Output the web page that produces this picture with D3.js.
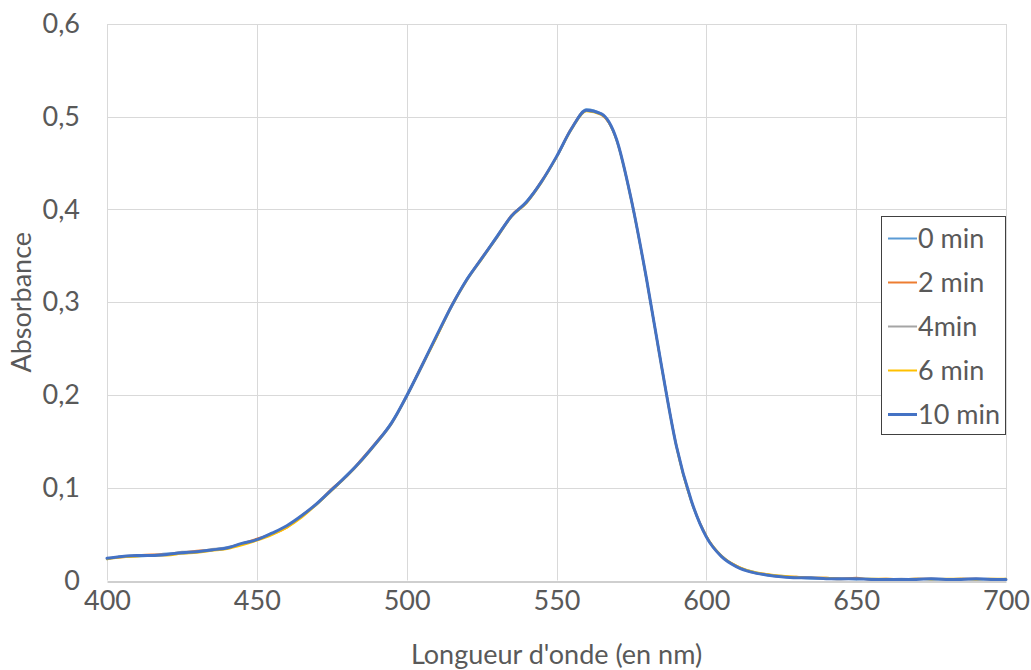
<!DOCTYPE html>
<html><head><meta charset="utf-8">
<script src="https://cdn.jsdelivr.net/npm/d3@7"></script>
<style>
html,body{margin:0;padding:0;background:#fff;}
svg text{font-family:Lato,"Open Sans",sans-serif;fill:#595959;}
</style></head>
<body><svg id="chart" width="1031" height="670"></svg>
<script>
const wavelengths = [400,405,410,415,420,425,430,435,440,445,450,455,460,465,470,475,480,485,490,495,500,505,510,515,520,525,530,535,540,545,550,555,560,565,570,575,580,585,590,595,600,605,610,615,620,625,630,635,640,645,650,655,660,665,670,675,680,685,690,695,700];

const seriesNames = ["0 min","2 min","4min","6 min","10 min"];
const seriesColors = ["#5B9BD5","#ED7D31","#A5A5A5","#FFC000","#4472C4"];

const s0min = [0.023,0.026,0.026,0.027,0.029,0.029,0.031,0.033,0.036,0.039,
 0.044,0.051,0.058,0.070,0.082,0.098,0.114,0.130,0.149,0.171,
 0.198,0.231,0.264,0.296,0.325,0.347,0.371,0.393,0.409,0.430,
 0.456,0.487,0.508,0.503,0.475,0.410,0.325,0.233,0.145,0.085,
 0.047,0.026,0.015,0.010,0.006,0.004,0.003,0.002,0.002,0.002,
 0.001,0.002,0.001,0.001,0.002,0.001,0.001,0.002,0.001,0.001,0.002];
const s2min = [0.024,0.025,0.027,0.028,0.028,0.030,0.032,0.033,0.035,0.040,
 0.045,0.050,0.057,0.070,0.083,0.099,0.113,0.131,0.150,0.170,
 0.199,0.232,0.263,0.297,0.324,0.348,0.370,0.394,0.408,0.431,
 0.457,0.488,0.507,0.502,0.476,0.411,0.326,0.232,0.146,0.086,
 0.048,0.026,0.016,0.009,0.007,0.004,0.004,0.003,0.003,0.002,
 0.003,0.001,0.002,0.001,0.002,0.002,0.001,0.002,0.002,0.001,0.001];
const s4min = [0.024,0.026,0.027,0.027,0.028,0.031,0.031,0.034,0.035,0.039,
 0.044,0.050,0.058,0.069,0.083,0.097,0.113,0.130,0.149,0.170,
 0.200,0.231,0.263,0.296,0.324,0.347,0.369,0.393,0.407,0.430,
 0.457,0.487,0.507,0.503,0.476,0.409,0.326,0.232,0.145,0.086,
 0.047,0.027,0.015,0.009,0.006,0.005,0.003,0.003,0.002,0.001,
 0.002,0.001,0.001,0.002,0.001,0.002,0.001,0.001,0.001,0.002,0.001];
const s6min = [0.023,0.025,0.026,0.027,0.027,0.029,0.030,0.032,0.034,0.038,
 0.043,0.049,0.057,0.068,0.082,0.097,0.112,0.129,0.148,0.169,
 0.198,0.230,0.262,0.295,0.323,0.346,0.369,0.392,0.407,0.429,
 0.456,0.486,0.506,0.502,0.475,0.409,0.325,0.231,0.144,0.085,
 0.048,0.027,0.016,0.010,0.007,0.005,0.004,0.003,0.003,0.002,
 0.002,0.002,0.002,0.001,0.002,0.001,0.002,0.002,0.001,0.002,0.002];
const s10min = [0.024,0.026,0.027,0.027,0.028,0.030,0.031,0.033,0.035,0.040,
 0.044,0.051,0.059,0.070,0.083,0.098,0.113,0.130,0.149,0.170,
 0.199,0.231,0.264,0.296,0.324,0.347,0.370,0.393,0.408,0.430,
 0.457,0.487,0.507,0.503,0.476,0.410,0.326,0.232,0.145,0.086,
 0.047,0.026,0.015,0.009,0.006,0.004,0.003,0.003,0.002,0.002,
 0.002,0.001,0.001,0.001,0.001,0.002,0.001,0.001,0.002,0.001,0.001];

const xTicks = [400,450,500,550,600,650,700];
const yTicks = [0,0.1,0.2,0.3,0.4,0.5,0.6];
const yTickLabels = ["0","0,1","0,2","0,3","0,4","0,5","0,6"];
const xTitle = "Longueur d'onde (en nm)";
const yTitle = "Absorbance";

const seriesValues = [s0min,s2min,s4min,s6min,s10min];
const seriesWidths = [2,2,2,2,3];

const svg = d3.select("#chart");
const L = 107, R = 1006, T = 24, B = 580.5;
const FS = 27;
const x = d3.scaleLinear().domain([400,700]).range([L,R]);
const y = d3.scaleLinear().domain([0,0.6]).range([B,T]);

// gridlines
svg.append("g").selectAll("line.h").data(yTicks.filter(v=>v>0)).join("line")
  .attr("x1",L).attr("x2",R).attr("y1",d=>Math.round(y(d))+0.5).attr("y2",d=>Math.round(y(d))+0.5)
  .attr("stroke","#d9d9d9").attr("stroke-width",1);
svg.append("g").selectAll("line.v").data(xTicks).join("line")
  .attr("y1",T).attr("y2",B).attr("x1",d=>Math.round(x(d))+0.5).attr("x2",d=>Math.round(x(d))+0.5)
  .attr("stroke","#d9d9d9").attr("stroke-width",1);

// x axis
const xAxis = d3.axisBottom(x).tickValues(xTicks).tickSize(0).tickPadding(9).tickFormat(d=>String(d));
const gx = svg.append("g").attr("transform",`translate(0,${Math.round(B)+0.5})`).call(xAxis);
gx.select(".domain").attr("stroke","#bfbfbf").attr("stroke-width",1.3);
gx.selectAll("text").attr("font-size",FS).attr("fill","#595959").style("font-family","Lato");

// y axis
const yAxis = d3.axisLeft(y).tickValues(yTicks).tickSize(0).tickPadding(27).tickFormat((d,i)=>yTickLabels[i]);
const gy = svg.append("g").attr("transform",`translate(${L},0)`).call(yAxis);
gy.select(".domain").remove();
gy.selectAll("text").attr("font-size",FS).attr("fill","#595959").style("font-family","Lato");

// titles
svg.append("text").attr("x",(L+R)/2).attr("y",664).attr("text-anchor","middle")
  .attr("font-size",FS).text(xTitle);
svg.append("text").attr("transform",`translate(31,${(T+B)/2}) rotate(-90)`).attr("text-anchor","middle")
  .attr("font-size",FS).text(yTitle);

// lines
const line = d3.line().x((d,i)=>x(wavelengths[i])).y(d=>y(d)).curve(d3.curveMonotoneX);
seriesValues.forEach((vals,k)=>{
  svg.append("path").datum(vals).attr("d",line).attr("fill","none")
    .attr("stroke",seriesColors[k]).attr("stroke-width",seriesWidths[k])
    .attr("stroke-linejoin","round").attr("stroke-linecap","round");
});

// legend
const lg = svg.append("g");
lg.append("rect").attr("x",881.5).attr("y",216.5).attr("width",124).attr("height",218)
  .attr("fill","#fff").attr("stroke","#404040").attr("stroke-width",1);
seriesNames.forEach((n,k)=>{
  const cy = 238.5 + k*44;
  lg.append("line").attr("x1",888).attr("x2",917).attr("y1",cy).attr("y2",cy)
    .attr("stroke",seriesColors[k]).attr("stroke-width",seriesWidths[k]);
  lg.append("text").attr("x",918).attr("y",cy).attr("dy","0.35em").attr("font-size",FS).text(n);
});
</script></body></html>
